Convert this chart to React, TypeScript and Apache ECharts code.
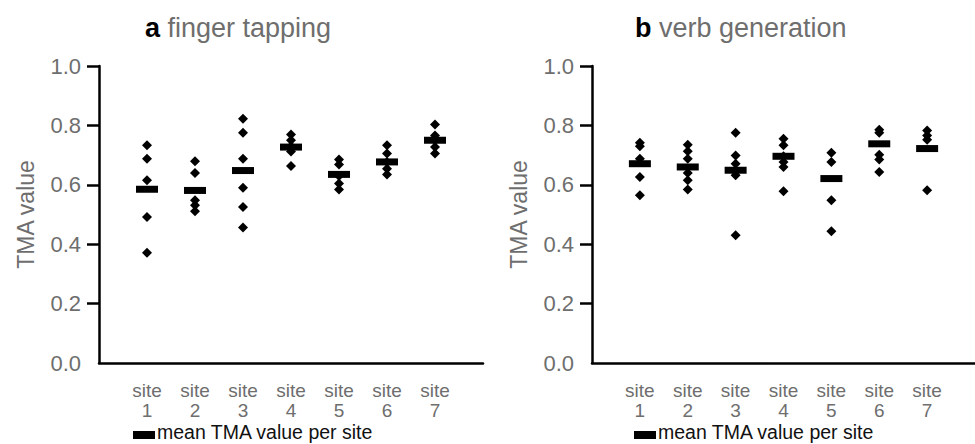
import React, { useEffect, useRef } from "react";
import * as echarts from "echarts";

const FONT = "'Liberation Sans', Arial, Helvetica, sans-serif";
const GRAY = "#6e6e6e";

const siteNumbers = [1, 2, 3, 4, 5, 6, 7];
const yTicks = [0, 0.2, 0.4, 0.6, 0.8, 1.0];

// a: finger tapping – individual TMA values per site
const fingerPoints: number[][] = [
  [0.733, 0.688, 0.615, 0.492, 0.371],
  [0.679, 0.64, 0.548, 0.531, 0.511],
  [0.822, 0.775, 0.688, 0.59, 0.525, 0.456],
  [0.769, 0.75, 0.73, 0.712, 0.663],
  [0.685, 0.668, 0.63, 0.604, 0.584],
  [0.733, 0.705, 0.677, 0.654, 0.635],
  [0.803, 0.766, 0.75, 0.727, 0.705],
];
const fingerMeans = [0.585, 0.581, 0.648, 0.727, 0.635, 0.677, 0.75];

// b: verb generation – individual TMA values per site
const verbPoints: number[][] = [
  [0.742, 0.73, 0.688, 0.626, 0.565],
  [0.735, 0.713, 0.688, 0.64, 0.615, 0.584],
  [0.775, 0.699, 0.671, 0.645, 0.632, 0.43],
  [0.755, 0.733, 0.696, 0.677, 0.66, 0.578],
  [0.708, 0.677, 0.548, 0.444],
  [0.785, 0.775, 0.701, 0.685, 0.643],
  [0.783, 0.766, 0.752, 0.582],
];
const verbMeans = [0.671, 0.66, 0.649, 0.696, 0.621, 0.738, 0.722];

const panelTitles = [
  { letter: "a", text: "finger tapping" },
  { letter: "b", text: "verb generation" },
];
const legendText = "mean TMA value per site";

function pointsData(pts: number[][]) {
  const out: number[][] = [];
  pts.forEach((arr, i) => arr.forEach((v) => out.push([siteNumbers[i], v])));
  return out;
}
function meansData(m: number[]) {
  return m.map((v, i) => [siteNumbers[i], v]);
}

export default function App() {
  const ref = useRef<HTMLDivElement>(null);
  useEffect(() => {
    if (!ref.current) return;
    const chart = echarts.init(ref.current, undefined, { renderer: "svg" });
    const axisLineStyle = { color: "#000", width: 2.5 };
    const makeX = (gridIndex: number) => ({
      type: "value",
      gridIndex,
      min: 0,
      max: 8,
      interval: 1,
      splitLine: { show: false },
      axisLine: { show: true, lineStyle: axisLineStyle },
      axisTick: { show: false },
      axisLabel: {
        customValues: siteNumbers,
        formatter: (v: number) => (v >= 1 && v <= 7 ? `site\n${v}` : ""),
        color: GRAY,
        fontSize: 19,
        lineHeight: 20,
        margin: 17,
        fontFamily: FONT,
      },
    });
    const makeY = (gridIndex: number) => ({
      type: "value",
      gridIndex,
      min: 0,
      max: 1,
      interval: 0.2,
      splitLine: { show: false },
      axisLine: { show: true, lineStyle: axisLineStyle },
      axisTick: {
        show: true,
        length: 12,
        customValues: yTicks.filter((t) => t > 0),
        lineStyle: { color: "#000", width: 2.5 },
      },
      axisLabel: {
        customValues: yTicks,
        formatter: (v: number) => v.toFixed(1),
        color: GRAY,
        fontSize: 22,
        margin: 18,
        fontFamily: FONT,
      },
      name: "TMA value",
      nameLocation: "middle",
      nameGap: 62,
      nameTextStyle: { color: GRAY, fontSize: 23, fontFamily: FONT },
    });
    const pointSeries = (idx: number, data: number[][]) => ({
      type: "scatter",
      xAxisIndex: idx,
      yAxisIndex: idx,
      symbol: "diamond",
      symbolSize: 10,
      itemStyle: { color: "#000", opacity: 1 },
      data,
      z: 2,
    });
    const meanSeries = (idx: number, data: number[][]) => ({
      type: "scatter",
      xAxisIndex: idx,
      yAxisIndex: idx,
      symbol: "rect",
      symbolSize: [22, 7],
      itemStyle: { color: "#000", opacity: 1 },
      data,
      z: 3,
    });
    const titleLefts = [140, 630];
    const legendLefts = [133, 634];
    chart.setOption({
      animation: false,
      title: panelTitles.map((t, i) => ({
        text: `{b|${t.letter}} {n|${t.text}}`,
        left: titleLefts[i],
        top: 9,
        textStyle: {
          fontWeight: "normal",
          fontSize: 27,
          fontFamily: FONT,
          color: GRAY,
          rich: {
            b: { fontWeight: "bold", color: "#000", fontSize: 27, fontFamily: FONT },
            n: { fontWeight: "normal", color: GRAY, fontSize: 27, fontFamily: FONT },
          },
        },
      })),
      grid: [
        { left: 99, top: 66, width: 384, height: 297 },
        { left: 592, top: 66, width: 398, height: 297 },
      ],
      xAxis: [makeX(0), makeX(1)],
      yAxis: [makeY(0), makeY(1)],
      series: [
        pointSeries(0, pointsData(fingerPoints)),
        meanSeries(0, meansData(fingerMeans)),
        pointSeries(1, pointsData(verbPoints)),
        meanSeries(1, meansData(verbMeans)),
      ],
      graphic: legendLefts.flatMap((lx) => [
        { type: "rect", shape: { x: lx, y: 431, width: 22, height: 8 }, style: { fill: "#000" } },
        {
          type: "text",
          x: lx + 24,
          y: 432,
          style: {
            text: legendText,
            fill: "#111",
            fontSize: 19.5,
            fontFamily: FONT,
            verticalAlign: "middle",
          },
        },
      ]),
    });
    return () => chart.dispose();
  }, []);
  return (
    <div
      ref={ref}
      style={{ position: "absolute", left: 0, top: 0, width: 975, height: 444 }}
    />
  );
}
